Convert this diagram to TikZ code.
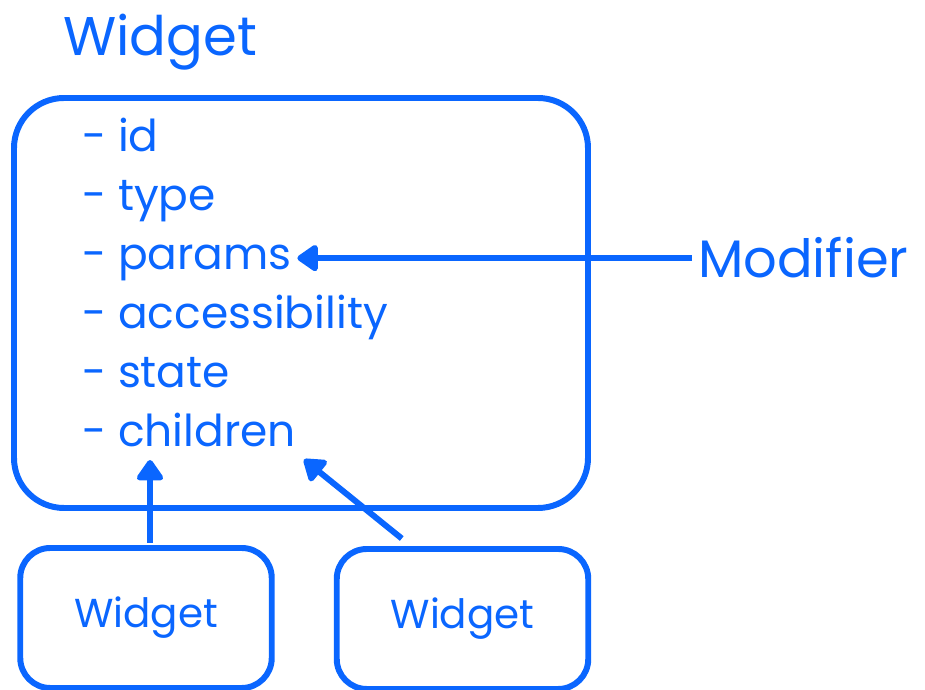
\documentclass[tikz,border=0pt]{standalone}
\usepackage{fontspec}
\setmainfont{Poppins}
\definecolor{penblue}{HTML}{0A66FF}
\usepackage{tikz}
\usetikzlibrary{positioning, arrows.meta, calc}
\tikzset{
	boxnode/.style={
			draw=penblue,
			line width=3.4pt,
			rounded corners=1cm,
			inner sep=0pt
		},
	smallbox/.style={
			boxnode,
			rounded corners=0.6cm,
			minimum width=5.03cm,
			minimum height=2.8cm,
			text=penblue,
			font=\fontsize{23}{26}\selectfont
		},
	fieldnode/.style={
			anchor=base west,
			text=penblue,
			inner sep=1pt,
			font=\fontsize{25}{28}\selectfont
		},
	titlenode/.style={
			text=penblue,
			font=\fontsize{31}{36}\selectfont
		},
	penarrow/.style={
			draw=penblue,
			line width=3.4pt,
			-{Triangle[round, length=13pt, width=17pt]}
		}
}
\begin{document}
\begin{tikzpicture}
\useasboundingbox (0,0) rectangle (18.5,13.8);

\node[titlenode] (title) at (3.2,12.96) {Widget};
\node[boxnode, minimum width=11.48cm, minimum height=8.2cm] (widget) at (6.02,7.74) {};

\node[fieldnode] (id) at (1.6,10.76) {- id};
\node[fieldnode] (type) at (1.6,9.58) {- type};
\node[fieldnode] (params) at (1.6,8.40) {- params};
\node[fieldnode] (access) at (1.6,7.22) {- accessibility};
\node[fieldnode] (state) at (1.6,6.04) {- state};
\node[fieldnode] (children) at (1.6,4.86) {- children};

\node[titlenode, anchor=base west, font=\fontsize{30}{34}\selectfont] (modifier) at (13.84,8.24) {Modifier};

\node[smallbox] (w1) at (2.92,1.44) {Widget};
\node[smallbox] (w2) at (9.25,1.42) {Widget};

\coordinate (c1) at ($(w1.north)+(0.08,1.7)$);
\coordinate (c2) at ($(children.south east)+(0.12,-0.2)$);

\draw[penarrow] (modifier.west) -- ([xshift=2pt]params.east |- modifier.west);
\draw[penarrow] ($(w1.north)+(0.08,0.05)$) -- (c1);
\draw[penarrow] ($(w2.north west)+(1.36,0.15)$) -- (c2);
\end{tikzpicture}
\end{document}
